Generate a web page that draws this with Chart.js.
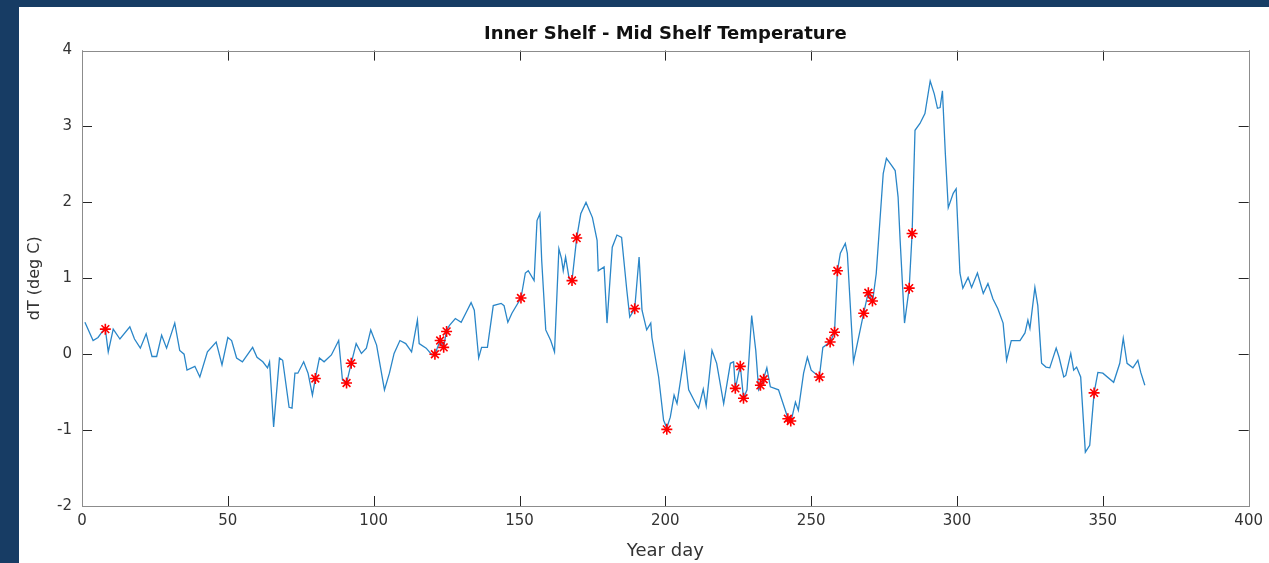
<!DOCTYPE html>
<html>
<head>
<meta charset="utf-8">
<script src="https://cdn.jsdelivr.net/npm/chart.js@4.4.1/dist/chart.umd.min.js"></script>
<style>
    html, body { margin: 0; padding: 0; background: #173c64; overflow: hidden; }
    #panel { position: absolute; left: 19px; top: 7px; width: 1250px; height: 556px; background: #ffffff; }
</style>
</head>
<body>
<div id="panel"><canvas id="temp-chart" width="1250" height="556"></canvas></div>
<script>
// dT line (year day / deg C)
const yearDay = [1, 3.8, 5.5, 7, 8, 9, 10.7, 13, 16.4, 18, 20, 22, 24, 25.6, 27.3, 29, 31.8, 33.5, 35, 36,
    38.7, 40.4, 43, 46, 48, 50, 51.3, 53, 55, 58.5, 60, 62, 63.6, 64.3, 65.7, 67.7, 68.8, 71, 72, 73,
    74, 76, 77.5, 79, 80, 81.4, 83, 85.5, 88, 89.3, 90.7, 92.3, 94, 95.8, 97.5, 99, 101, 103.7, 105.4, 107,
    109, 111, 113, 115, 115.6, 118, 120, 121, 122.8, 124, 125, 126, 128, 130, 131.7, 133.4, 134.5, 136, 137, 139,
    141, 143.7, 144.7, 146, 147.4, 150.5, 152, 153, 155, 156, 157, 157.6, 159, 160.7, 162, 163.5, 164.4, 165, 165.8, 167,
    168, 169.6, 171, 172.8, 175, 176.6, 177, 179, 180, 181.8, 183.4, 185, 186.8, 187.8, 189.5, 191, 192, 193.6, 195, 195.4,
    197.7, 199.4, 200.5, 201.7, 203, 204, 206.6, 208, 210.4, 211.4, 213, 214, 216, 217.6, 220, 222.3, 223.4, 224, 225.7, 226.8,
    228, 229.6, 231, 232, 232.6, 233.7, 234.8, 236, 238.8, 242, 243.2, 244.6, 245.6, 247.4, 248.7, 250, 252.8, 254, 256.5, 258,
    259, 260, 261.7, 262.4, 264.5, 265.5, 268, 269.6, 271, 272.3, 274.7, 275.8, 277.5, 278.8, 279.8, 280.5, 282, 283.6, 284.6, 285.6,
    287.3, 289, 290.8, 292.2, 293.3, 294.2, 295, 296, 297, 298.7, 299.7, 301, 302, 303.8, 305, 307, 309, 310.6, 312.3, 314,
    315.8, 317, 318.6, 321.6, 323.3, 324.3, 325, 326.7, 327.7, 329, 330.5, 331.8, 334, 335, 336.6, 337.3, 339, 340, 341, 342.4,
    344, 345.5, 347, 348.3, 350, 353.7, 355.8, 357, 358.3, 360.3, 362, 363, 364.4];
const deltaT = [0.42, 0.18, 0.22, 0.3, 0.33, 0.03, 0.33, 0.2, 0.36, 0.2, 0.08, 0.27, -0.03, -0.03, 0.25, 0.08, 0.41, 0.05, 0.0, -0.21,
    -0.16, -0.3, 0.03, 0.16, -0.14, 0.22, 0.18, -0.05, -0.1, 0.09, -0.04, -0.1, -0.18, -0.1, -0.96, -0.05, -0.08, -0.7, -0.71, -0.25,
    -0.25, -0.1, -0.25, -0.54, -0.32, -0.05, -0.1, -0.01, 0.18, -0.34, -0.38, -0.12, 0.14, 0.01, 0.08, 0.32, 0.12, -0.47, -0.25, 0.01,
    0.18, 0.14, 0.03, 0.45, 0.14, 0.08, -0.01, 0.0, 0.18, 0.09, 0.32, 0.38, 0.47, 0.42, 0.55, 0.68, 0.58, -0.05, 0.09, 0.09,
    0.64, 0.67, 0.64, 0.42, 0.54, 0.74, 1.07, 1.1, 0.97, 1.76, 1.85, 1.24, 0.32, 0.18, 0.03, 1.39, 1.26, 1.1, 1.28, 1.0,
    0.97, 1.53, 1.85, 2.0, 1.8, 1.5, 1.1, 1.15, 0.41, 1.41, 1.57, 1.54, 0.84, 0.49, 0.6, 1.28, 0.58, 0.32, 0.41, 0.22,
    -0.3, -0.87, -0.97, -0.83, -0.54, -0.65, 0.01, -0.47, -0.65, -0.71, -0.46, -0.68, 0.05, -0.12, -0.65, -0.12, -0.1, -0.45, -0.15, -0.58,
    -0.47, 0.51, 0.05, -0.47, -0.43, -0.32, -0.18, -0.43, -0.47, -0.84, -0.87, -0.63, -0.74, -0.25, -0.04, -0.21, -0.3, 0.09, 0.16, 0.29,
    1.1, 1.33, 1.46, 1.33, -0.1, 0.08, 0.54, 0.82, 0.68, 1.06, 2.38, 2.58, 2.49, 2.42, 2.07, 1.5, 0.41, 0.87, 1.59, 2.95,
    3.04, 3.17, 3.6, 3.43, 3.24, 3.25, 3.47, 2.64, 1.93, 2.12, 2.18, 1.07, 0.87, 1.01, 0.88, 1.07, 0.8, 0.93, 0.73, 0.6,
    0.41, -0.08, 0.18, 0.18, 0.28, 0.45, 0.34, 0.88, 0.64, -0.12, -0.17, -0.18, 0.08, -0.04, -0.3, -0.28, 0.01, -0.21, -0.17, -0.3,
    -1.29, -1.2, -0.51, -0.24, -0.25, -0.37, -0.12, 0.21, -0.12, -0.18, -0.08, -0.24, -0.41];

// red asterisk markers
const eventDay = [8, 80, 90.7, 92.3, 121, 122.8, 124, 125, 150.5, 168, 169.6, 189.5, 200.5, 224, 225.7, 226.8,
    232.6, 233.7, 242, 243, 252.8, 256.5, 258, 259, 268, 269.6, 271, 283.6, 284.6, 347];
const eventDT = [0.33, -0.32, -0.38, -0.12, 0.0, 0.18, 0.09, 0.3, 0.74, 0.97, 1.53, 0.6, -0.99, -0.45, -0.16, -0.58,
    -0.41, -0.33, -0.85, -0.88, -0.3, 0.16, 0.29, 1.1, 0.54, 0.81, 0.7, 0.87, 1.59, -0.51];

const xLimits = [0, 400];
const yLimits = [-2, 4];

const toPoints = (xs, ys) => xs.map((x, i) => ({ x: x, y: ys[i] }));

// MATLAB style box with inward ticks on all four sides
const boxTicksPlugin = {
    id: 'boxTicks',
    afterDraw(chart) {
        const { ctx, chartArea: a, scales } = chart;
        const len = 10;
        ctx.save();
        ctx.lineWidth = 1;
        ctx.strokeStyle = '#262626';
        ctx.beginPath();
        scales.x.ticks.forEach(t => {
            const px = Math.round(scales.x.getPixelForValue(t.value)) + 0.5;
            ctx.moveTo(px, a.bottom); ctx.lineTo(px, a.bottom - len);
            ctx.moveTo(px, a.top); ctx.lineTo(px, a.top + len);
        });
        scales.y.ticks.forEach(t => {
            const py = Math.round(scales.y.getPixelForValue(t.value)) + 0.5;
            ctx.moveTo(a.left, py); ctx.lineTo(a.left + len, py);
            ctx.moveTo(a.right, py); ctx.lineTo(a.right - len, py);
        });
        ctx.stroke();
        ctx.strokeStyle = '#8c8c8c';
        ctx.strokeRect(Math.round(a.left) + 0.5, Math.round(a.top) + 0.5, Math.round(a.right - a.left), Math.round(a.bottom - a.top));
        ctx.restore();
    }
};

const font = 'DejaVu Sans';
const ctx = document.getElementById('temp-chart').getContext('2d');
new Chart(ctx, {
    type: 'scatter',
    data: {
        datasets: [
            { data: toPoints(yearDay, deltaT), showLine: true, borderColor: '#2a86c8', borderWidth: 1.3,
              pointRadius: 0, tension: 0, order: 2 },
            { data: toPoints(eventDay, eventDT), showLine: false, pointStyle: 'star', pointRadius: 5.5,
              borderColor: '#ff0000', backgroundColor: '#ff0000', pointBorderWidth: 1.6, order: 1 }
        ]
    },
    options: {
        responsive: false, animation: false, events: [],
        layout: { padding: { left: 0, right: 18, top: 0, bottom: 0 } },
        plugins: {
            legend: { display: false }, tooltip: { enabled: false },
            title: {
                display: true, text: 'Inner Shelf - Mid Shelf Temperature', fullSize: false,
                color: '#111111', font: { family: font, size: 18, weight: 'bold' },
                padding: { top: 17, bottom: 5 }
            }
        },
        scales: {
            x: {
                type: 'linear', min: xLimits[0], max: xLimits[1],
                ticks: { stepSize: 50, color: '#333333', font: { family: font, size: 15 }, padding: 6, maxRotation: 0,
                         callback: v => String(v) },
                grid: { drawOnChartArea: false, drawTicks: false }, border: { display: false },
                title: { display: true, text: 'Year day', color: '#333333', font: { family: font, size: 18 },
                         padding: { top: 0, bottom: 1 } },
                afterFit: s => { s.height = 57; }
            },
            y: {
                type: 'linear', min: yLimits[0], max: yLimits[1],
                ticks: { stepSize: 1, color: '#333333', font: { family: font, size: 15 }, padding: 10,
                         callback: v => String(v) },
                grid: { drawOnChartArea: false, drawTicks: false }, border: { display: false },
                title: { display: true, text: 'dT (deg C)', color: '#333333', font: { family: font, size: 16 },
                         padding: { top: 6, bottom: 0 } },
                afterFit: s => { s.width = 63; }
            }
        }
    },
    plugins: [boxTicksPlugin]
});
</script>
</body>
</html>
